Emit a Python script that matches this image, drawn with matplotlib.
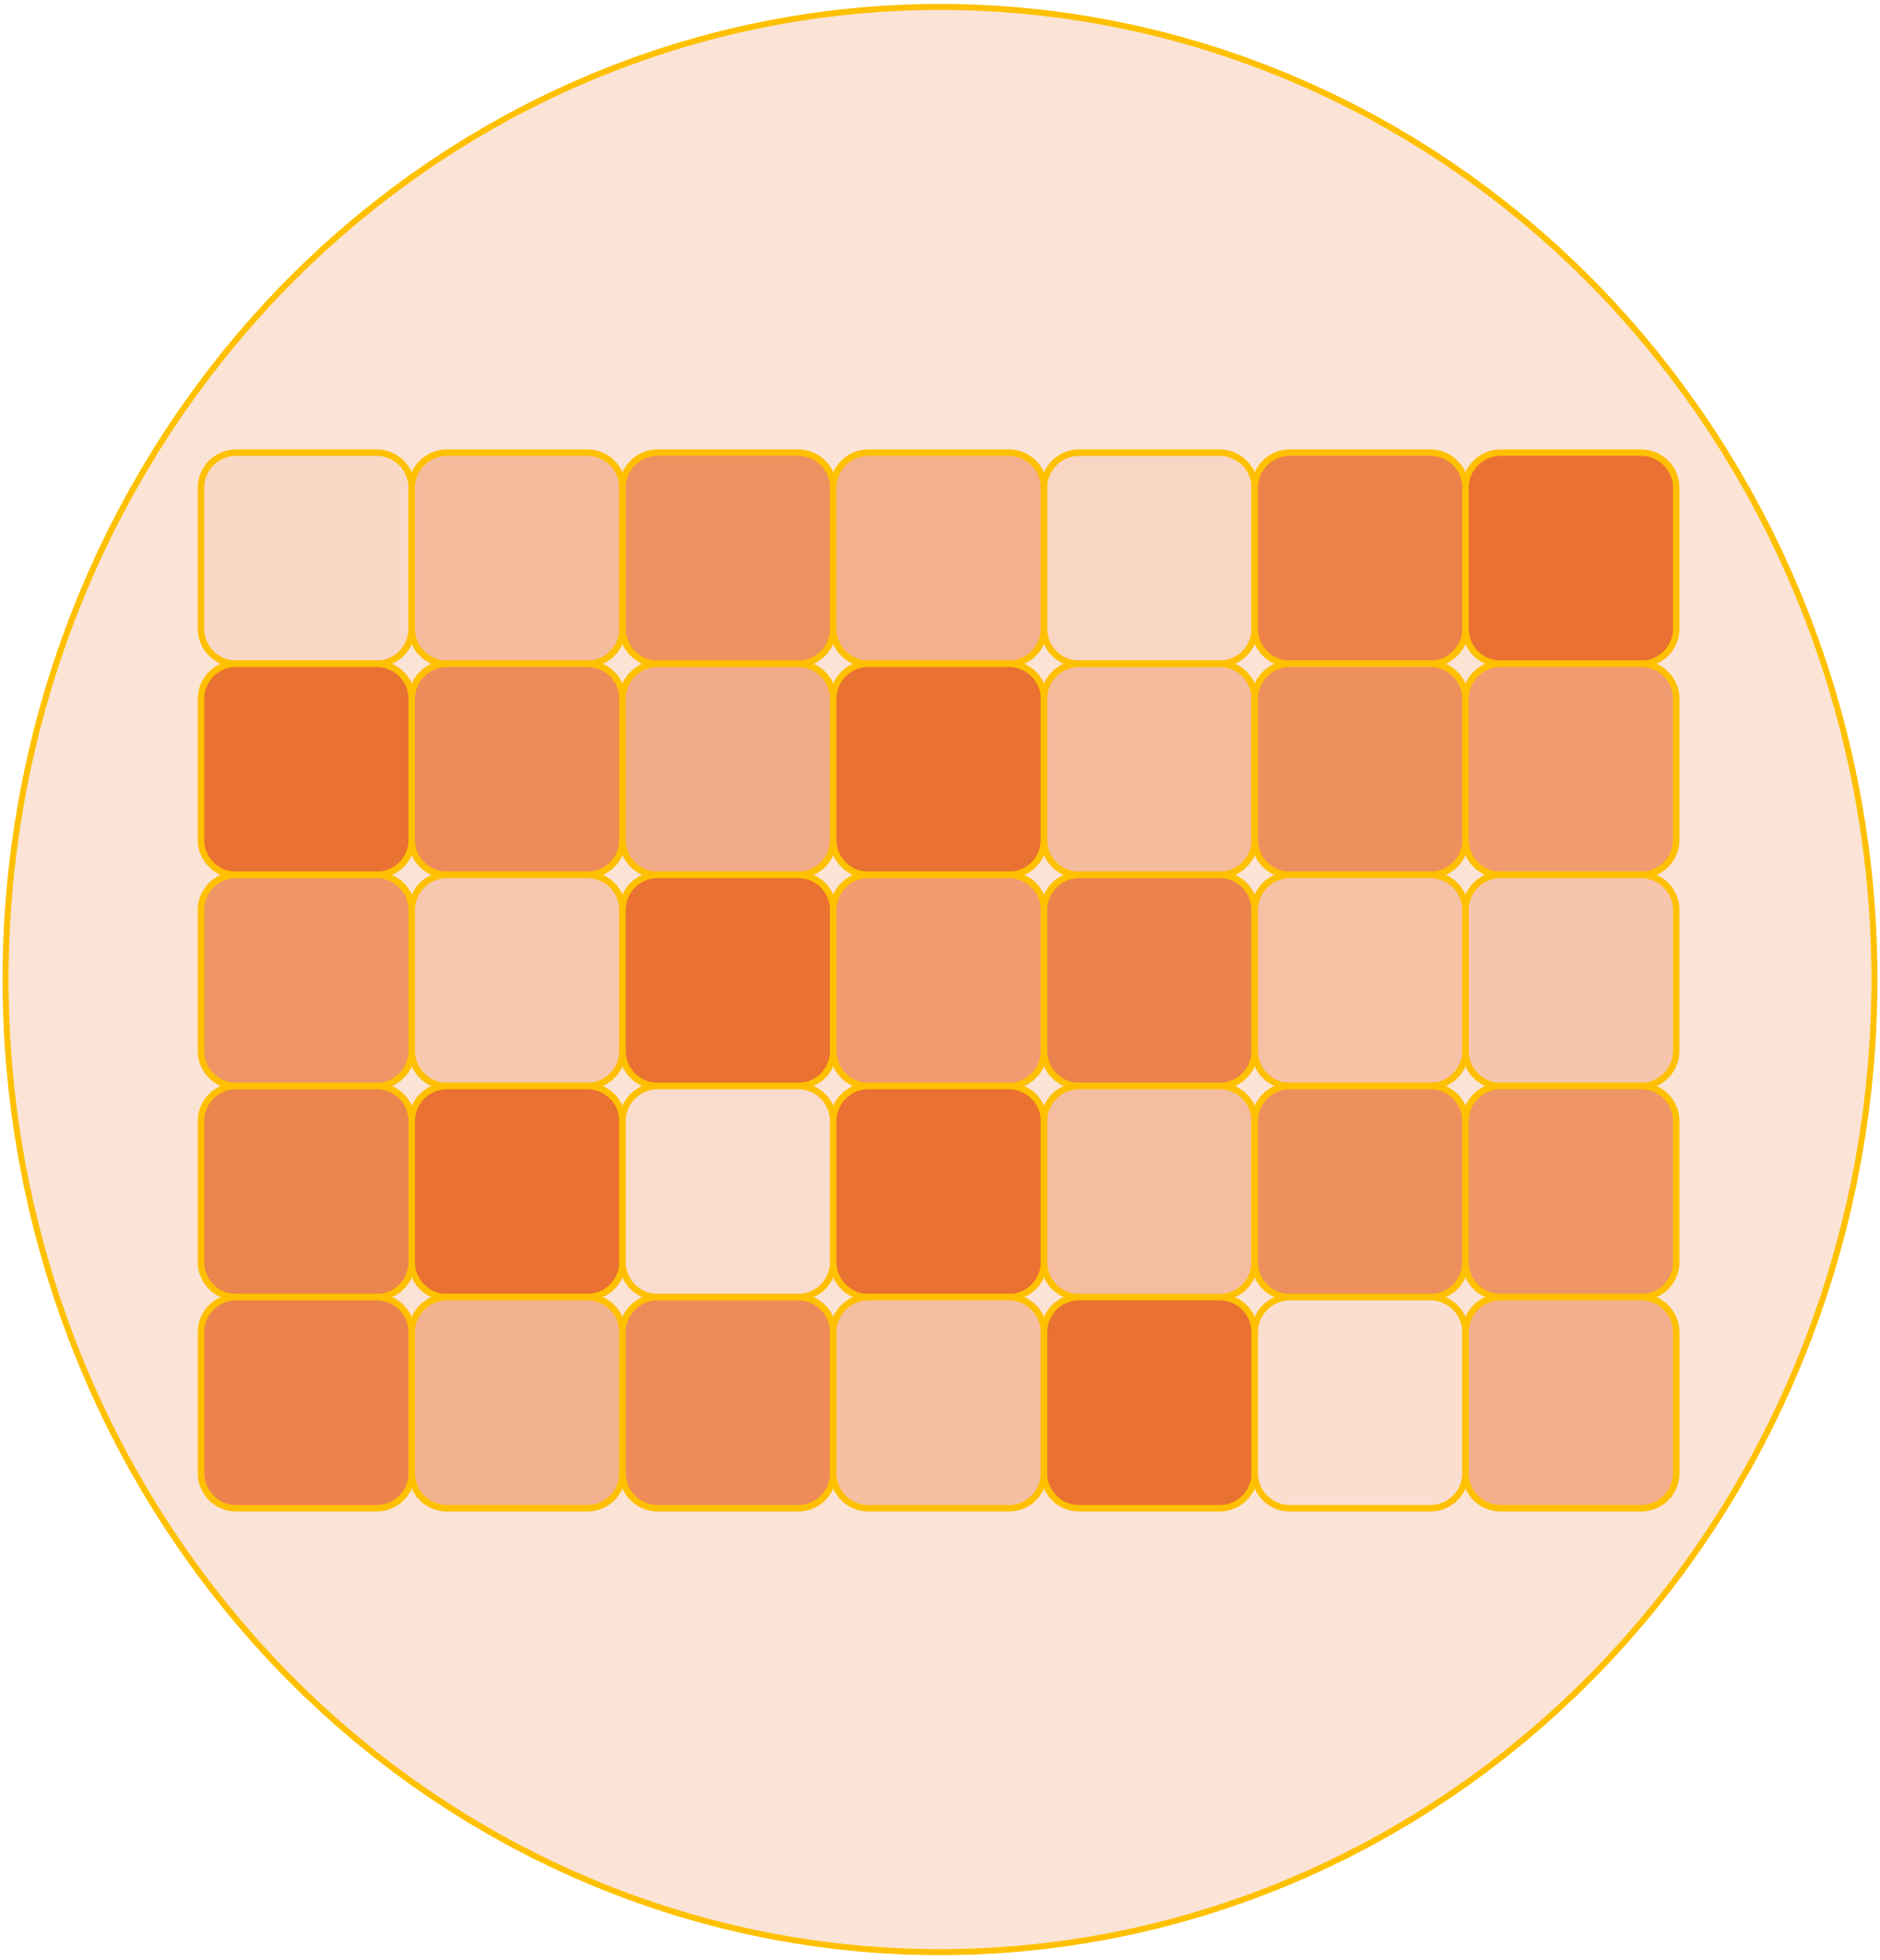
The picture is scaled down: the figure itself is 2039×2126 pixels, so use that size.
import matplotlib
matplotlib.use("Agg")
import matplotlib.pyplot as plt
from matplotlib.patches import Ellipse, PathPatch
from matplotlib.path import Path
from matplotlib.colors import LinearSegmentedColormap, Normalize
import numpy as np

# ---- data (heat values 0-100, rows top to bottom) ----
row1 = [10, 35, 72, 45, 11, 85, 100]
row2 = [100, 76, 48, 100, 35, 73, 62]
row3 = [68, 24, 100, 62, 84, 30, 26]
row4 = [83, 100, 6, 100, 33, 73, 68]
row5 = [84, 43, 76, 32, 100, 4, 46]
values = np.array([row1, row2, row3, row4, row5], dtype=float)

# ---- style ----
W, H = 2039, 2126
bg_fill = "#FBE3D6"
gold = "#FFC000"
cmap = LinearSegmentedColormap.from_list("peach", ["#FBE3D6", "#E97132"])
norm = Normalize(vmin=0, vmax=100)


def rounded_rect(x, y, w, h, r):
    k = 0.5523 * r
    verts = [
        (x + r, y),
        (x + w - r, y),
        (x + w - r + k, y), (x + w, y + r - k), (x + w, y + r),
        (x + w, y + h - r),
        (x + w, y + h - r + k), (x + w - r + k, y + h), (x + w - r, y + h),
        (x + r, y + h),
        (x + r - k, y + h), (x, y + h - r + k), (x, y + h - r),
        (x, y + r),
        (x, y + r - k), (x + r - k, y), (x + r, y),
        (x + r, y),
    ]
    codes = ([Path.MOVETO, Path.LINETO] + [Path.CURVE4] * 3 + [Path.LINETO]
             + [Path.CURVE4] * 3 + [Path.LINETO] + [Path.CURVE4] * 3
             + [Path.LINETO] + [Path.CURVE4] * 3 + [Path.CLOSEPOLY])
    return Path(verts, codes)


fig = plt.figure(figsize=(W / 100, H / 100), dpi=100)
ax = fig.add_axes([0, 0, 1, 1])
ax.set_xlim(0, W)
ax.set_ylim(H, 0)
ax.axis("off")

px = 72 / 100  # points per pixel

ax.add_patch(Ellipse((W / 2, H / 2 - 0.5), 2027, 2110, facecolor=bg_fill,
                     edgecolor=gold, linewidth=6.5 * px, zorder=1))

x0, x1 = 218, 1818
y0, y1 = 491, 1636
nrows, ncols = values.shape
cw = (x1 - x0) / ncols
ch = (y1 - y0) / nrows
for r in range(nrows):
    for c in range(ncols):
        ax.add_patch(PathPatch(rounded_rect(x0 + c * cw, y0 + r * ch, cw, ch, 38),
                               facecolor=cmap(norm(values[r, c])),
                               edgecolor=gold, linewidth=7 * px,
                               zorder=2 + r * ncols + c))

fig.savefig("out.png", dpi=100, facecolor="white")
